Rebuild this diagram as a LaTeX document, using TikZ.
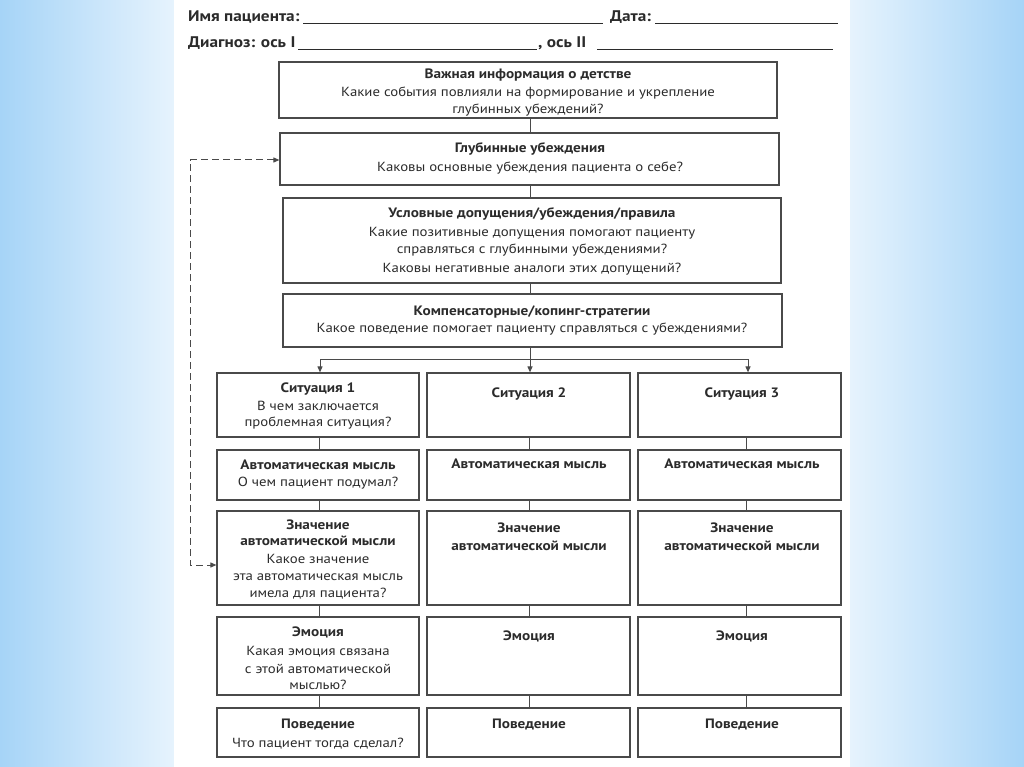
\documentclass[tikz,border=0pt]{standalone}
\usepackage{fontspec}
\setmainfont{PT Sans}[FakeStretch=1.12]
\usetikzlibrary{fit,arrows.meta}
\definecolor{bxc}{HTML}{4A4A4A}
\definecolor{txc}{HTML}{2B2B2B}
\definecolor{blueA}{HTML}{A6D4F7}
\definecolor{blueB}{HTML}{E6F3FD}
\begin{document}
\begin{tikzpicture}[x=1pt,y=-1pt,
  box/.style={draw=bxc, line width=1.2pt, inner sep=0pt},
  tx/.style={text=txc, font=\fontsize{13.2}{16}\selectfont, inner sep=0pt, text height=10pt, text depth=3pt, yshift=-2pt},
  tb/.style={tx, font=\fontsize{13.6}{16}\selectfont\bfseries},
  conn/.style={draw=bxc, line width=1pt},
  tip/.style={-{Triangle[length=6pt,width=5pt]}},
  dsh/.style={conn, dash pattern=on 7pt off 4pt},
  hd/.style={text=txc, font=\fontsize{15.4}{18}\selectfont\bfseries, inner sep=0pt, anchor=west, text height=11pt, text depth=3.5pt, yshift=-1pt},
  uline/.style={draw=txc, line width=0.8pt}]
\useasboundingbox (0,0) rectangle (1024,767);
\shade[left color=blueA, right color=blueB] (0,0) rectangle (174,767);
\shade[left color=blueB, right color=blueA] (850,0) rectangle (1024,767);
\fill[white] (174,0) rectangle (850,767);
% header
\node[hd] (nm) at (188,17) {Имя пациента:};
\node[hd] (dt) at (610,17) {Дата:};
\node[hd] (dg) at (188,43) {Диагноз: ось I};
\node[hd] (os) at (538,43) {, ось II};
\draw[uline] (303,23.5) -- (603,23.5);
\draw[uline] (655,23.5) -- (838,23.5);
\draw[uline] (298,49.5) -- (537,49.5);
\draw[uline] (597,49.5) -- (833,49.5);
% top boxes
\node[box, fit={(279,62) (777,118)}] (b1) {};
\node[box, fit={(280,133) (779,185)}] (b2) {};
\node[box, fit={(283,198) (781,283)}] (b3) {};
\node[box, fit={(283,294) (782,347)}] (b4) {};
\node[tb] (t1a) at (528,73.5) {Важная информация о детстве};
\node[tx] (t1b) at (528,91.5) {Какие события повлияли на формирование и укрепление};
\node[tx] (t1c) at (528,108) {глубинных убеждений?};
\node[tb] (t2a) at (530,147.5) {Глубинные убеждения};
\node[tx] (t2b) at (530,166.5) {Каковы основные убеждения пациента о себе?};
\node[tb] (t3a) at (532,212) {Условные допущения/убеждения/правила};
\node[tx] (t3b) at (532,231) {Какие позитивные допущения помогают пациенту};
\node[tx] (t3c) at (532,248) {справляться с глубинными убеждениями?};
\node[tx] (t3d) at (532,266.5) {Каковы негативные аналоги этих допущений?};
\node[tb] (t4a) at (532,310) {Компенсаторные/копинг-стратегии};
\node[tx] (t4b) at (532,327) {Какое поведение помогает пациенту справляться с убеждениями?};
% column boxes
\foreach \c/\xa/\xb in {1/217/419, 2/427/630, 3/638/841}{
  \node[box, fit={(\xa,373) (\xb,437)}] (c\c1) {};
  \node[box, fit={(\xa,450) (\xb,500)}] (c\c2) {};
  \node[box, fit={(\xa,511) (\xb,605)}] (c\c3) {};
  \node[box, fit={(\xa,617) (\xb,695)}] (c\c4) {};
  \node[box, fit={(\xa,708) (\xb,757)}] (c\c5) {};
}
% column 1 texts
\node[tb] (s1a) at (318,387) {Ситуация 1};
\node[tx] (s1b) at (318,405) {В чем заключается};
\node[tx] (s1c) at (318,421) {проблемная ситуация?};
\node[tb] (a1a) at (318,464) {Автоматическая мысль};
\node[tx] (a1b) at (318,481) {О чем пациент подумал?};
\node[tb] (z1a) at (318,524) {Значение};
\node[tb] (z1b) at (318,540) {автоматической мысли};
\node[tx] (z1c) at (318,558) {Какое значение};
\node[tx] (z1d) at (318,575) {эта автоматическая мысль};
\node[tx] (z1e) at (318,592) {имела для пациента?};
\node[tb] (e1a) at (318,631) {Эмоция};
\node[tx] (e1b) at (318,650) {Какая эмоция связана};
\node[tx] (e1c) at (318,668) {с этой автоматической};
\node[tx] (e1d) at (318,684) {мыслью?};
\node[tb] (p1a) at (318,723) {Поведение};
\node[tx] (p1b) at (318,742) {Что пациент тогда сделал?};
% columns 2 and 3 texts
\foreach \c/\x/\n in {2/529/2, 3/742/3}{
  \node[tb] (s\c a) at (\x,392) {Ситуация \n};
  \node[tb] (a\c a) at (\x,463) {Автоматическая мысль};
  \node[tb] (z\c a) at (\x,527) {Значение};
  \node[tb] (z\c b) at (\x,545) {автоматической мысли};
  \node[tb] (e\c a) at (\x,635) {Эмоция};
  \node[tb] (p\c a) at (\x,723) {Поведение};
}
% connectors
\coordinate (spine) at (530,0);
\draw[conn] (b1.south -| spine) -- (b2.north -| spine);
\draw[conn] (b2.south -| spine) -- (b3.north -| spine);
\draw[conn] (b3.south -| spine) -- (b4.north -| spine);
\coordinate (br) at (530,359);
\coordinate (k1) at (320,359);
\coordinate (k3) at (748,359);
\draw[conn] (b4.south -| spine) -- (br);
\draw[conn] (k1) -- (k3);
\draw[conn, tip] (k1) -- (c11.north -| k1);
\draw[conn, tip] (br) -- (c21.north -| br);
\draw[conn, tip] (k3) -- (c31.north -| k3);
\coordinate (x1) at (319,0);
\coordinate (x2) at (529,0);
\coordinate (x3) at (746,0);
\foreach \c in {1,2,3}{
  \draw[conn] (c\c1.south -| x\c) -- (c\c2.north -| x\c);
  \draw[conn] (c\c2.south -| x\c) -- (c\c3.north -| x\c);
  \draw[conn] (c\c3.south -| x\c) -- (c\c4.north -| x\c);
  \draw[conn] (c\c4.south -| x\c) -- (c\c5.north -| x\c);
}
% dashed feedback
\coordinate (d1) at (190,160);
\coordinate (d2) at (190,565);
\draw[dsh, {Triangle[length=6pt,width=5pt]}-{Triangle[length=6pt,width=5pt]}] (b2.west |- d1) -- (d1) -- (d2) -- (c13.west |- d2);
\end{tikzpicture}
\end{document}
